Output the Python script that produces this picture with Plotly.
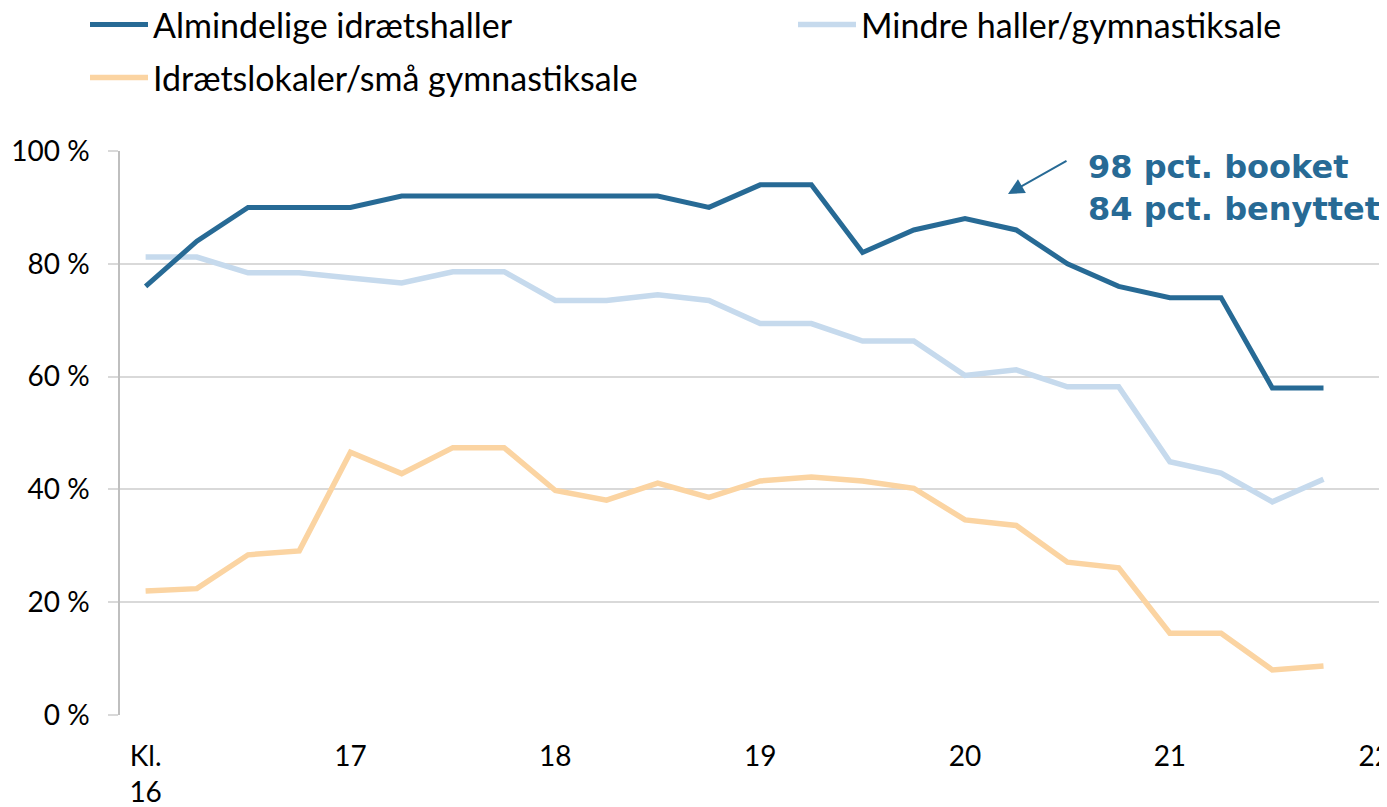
import plotly.graph_objects as go

times = [16 + 0.25 * i for i in range(24)]
almindelige = [76, 84, 90, 90, 90, 92, 92, 92, 92, 92, 92, 90, 94, 94, 82, 86, 88, 86, 80, 76, 74, 74, 58, 58]
mindre = [81.2, 81.2, 78.4, 78.4, 77.5, 76.6, 78.6, 78.6, 73.5, 73.5, 74.5, 73.5, 69.4, 69.4, 66.3, 66.3, 60.2, 61.2, 58.2, 58.2, 44.9, 42.9, 37.8, 41.8]
idraetslokaler = [22.0, 22.4, 28.4, 29.1, 46.6, 42.8, 47.4, 47.4, 39.8, 38.1, 41.1, 38.6, 41.5, 42.2, 41.5, 40.2, 34.6, 33.6, 27.1, 26.1, 14.5, 14.5, 8.0, 8.7]
tick_vals = [16, 17, 18, 19, 20, 21, 22]
tick_text = ["Kl.<br>16", "17", "18", "19", "20", "21", "22"]
y_ticks = [0, 20, 40, 60, 80, 100]
y_text = ["0 %", "20 %", "40 %", "60 %", "80 %", "100 %"]

DARK = "#276a95"
LIGHT = "#c6daed"
ORANGE = "#fbd4a2"
FONT = "Lato, sans-serif"

fig = go.Figure()
fig.add_trace(go.Scatter(x=times, y=mindre, mode="lines", name="Mindre haller/gymnastiksale",
                         line=dict(color=LIGHT, width=5.5), legend="legend3"))
fig.add_trace(go.Scatter(x=times, y=idraetslokaler, mode="lines", name="Idrætslokaler/små gymnastiksale",
                         line=dict(color=ORANGE, width=5.5), legend="legend2"))
fig.add_trace(go.Scatter(x=times, y=almindelige, mode="lines", name="Almindelige idrætshaller",
                         line=dict(color=DARK, width=5), legend="legend"))

# page has an 8px body margin; work in figure coordinates
OFF = 8
W, H = 1387, 807
L, R, T, B = 120 - OFF, OFF, 151 - OFF, 92 + OFF
PW = W - L - R
PH = H - T - B

def px(x):
    return (x - OFF - L) / PW

def py(y):
    return (H - B - (y - OFF)) / PH

fig.add_annotation(x=px(1086), y=py(146), xref="paper", yref="paper",
                   text="<b>98 pct. booket<br>84 pct. benyttet</b>",
                   showarrow=False, xanchor="left", yanchor="top", align="left",
                   font=dict(family="DejaVu Sans", size=32, color=DARK))
fig.add_annotation(x=px(1008), y=py(194), xref="paper", yref="paper", ax=60, ay=-34,
                   text="", showarrow=True, arrowhead=2, arrowsize=1.6, arrowwidth=2, arrowcolor=DARK)

legend_common = dict(orientation="h", xanchor="left", xref="container", yanchor="middle", yref="container",
                     font=dict(size=34), tracegroupgap=0, itemwidth=58, bgcolor="rgba(0,0,0,0)")
fig.update_layout(
    width=W, height=H,
    paper_bgcolor="white", plot_bgcolor="white",
    margin=dict(l=L, r=R, t=T, b=B, autoexpand=False),
    font=dict(family=FONT, size=28, color="black"),
    showlegend=True,
    legend=dict(x=(92 - 15) / W, y=1 - (25 - OFF) / H, **legend_common),
    legend3=dict(x=(800 - 15) / W, y=1 - (25 - OFF) / H, **legend_common),
    legend2=dict(x=(92 - 15) / W, y=1 - (78 - OFF) / H, **legend_common),
    xaxis=dict(range=[15.875, 22.06], tickvals=tick_vals, ticktext=tick_text, showgrid=False,
               showline=False, zeroline=False, ticks="", automargin=False,
               ticklabeloverflow="allow", ticklabelstandoff=22),
    yaxis=dict(range=[0, 100], tickvals=y_ticks, ticktext=y_text, showgrid=True, gridcolor="#d9d9d9",
               gridwidth=1.5, showline=True, linecolor="#bfbfbf", linewidth=1.5, ticks="outside",
               ticklen=10, tickcolor="#d9d9d9", tickwidth=1.5, zeroline=False, automargin=False,
               ticklabelstandoff=13),
)
fig.write_html("out.html")
